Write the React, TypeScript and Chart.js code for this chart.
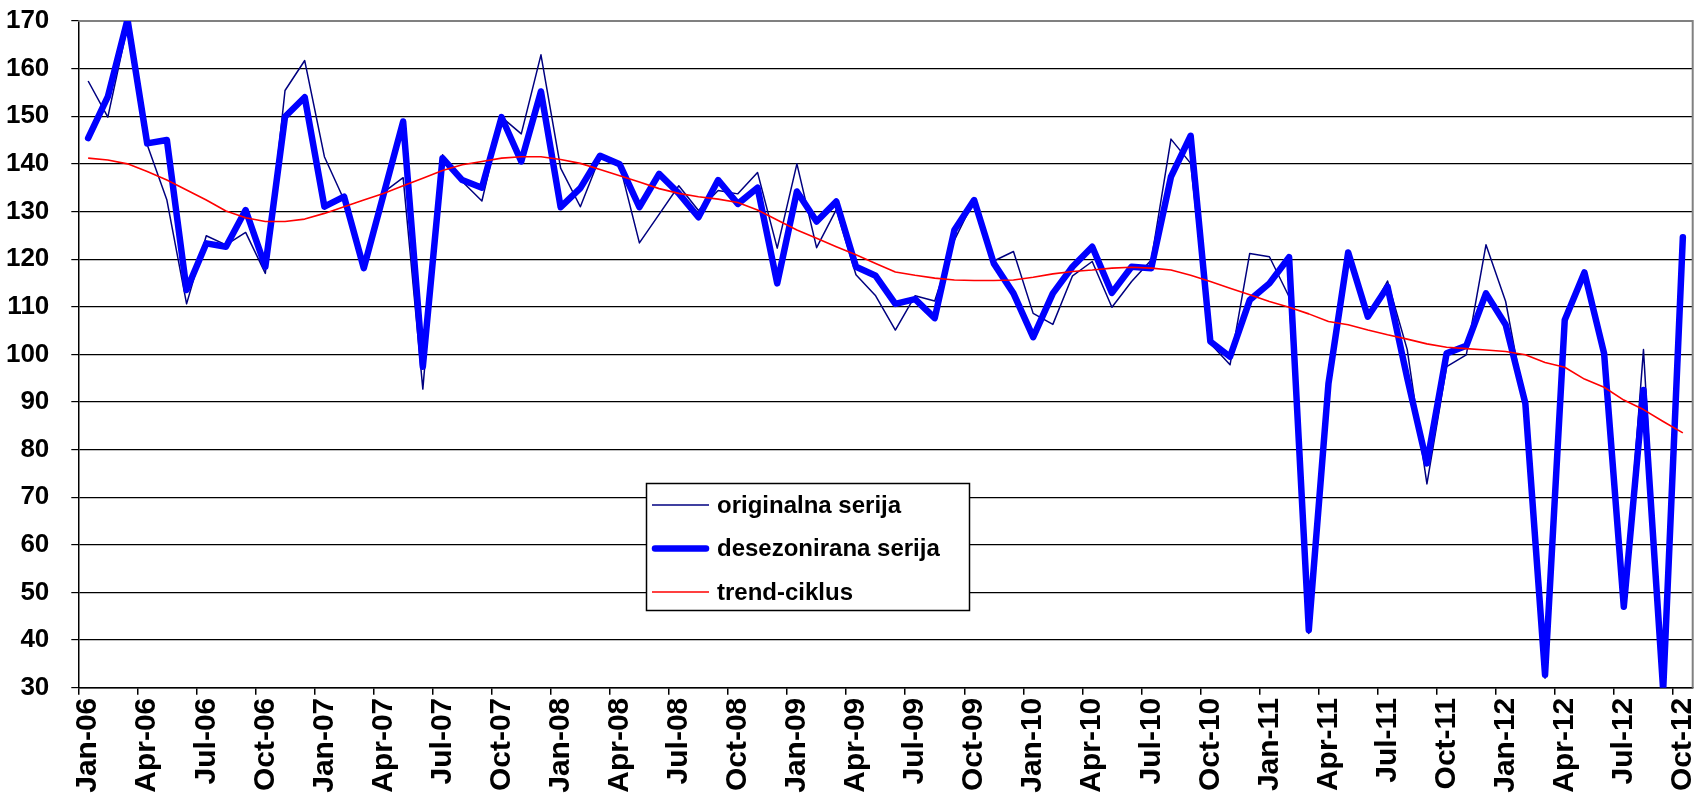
import React, { useEffect, useRef } from 'react';
import { Chart, registerables } from 'chart.js';

Chart.register(...registerables);

const categories = [
  'Jan-06','Feb-06','Mar-06','Apr-06','May-06','Jun-06','Jul-06','Aug-06','Sep-06','Oct-06','Nov-06','Dec-06',
  'Jan-07','Feb-07','Mar-07','Apr-07','May-07','Jun-07','Jul-07','Aug-07','Sep-07','Oct-07','Nov-07','Dec-07',
  'Jan-08','Feb-08','Mar-08','Apr-08','May-08','Jun-08','Jul-08','Aug-08','Sep-08','Oct-08','Nov-08','Dec-08',
  'Jan-09','Feb-09','Mar-09','Apr-09','May-09','Jun-09','Jul-09','Aug-09','Sep-09','Oct-09','Nov-09','Dec-09',
  'Jan-10','Feb-10','Mar-10','Apr-10','May-10','Jun-10','Jul-10','Aug-10','Sep-10','Oct-10','Nov-10','Dec-10',
  'Jan-11','Feb-11','Mar-11','Apr-11','May-11','Jun-11','Jul-11','Aug-11','Sep-11','Oct-11','Nov-11','Dec-11',
  'Jan-12','Feb-12','Mar-12','Apr-12','May-12','Jun-12','Jul-12','Aug-12','Sep-12','Oct-12',
];

const originalnaSerija = [
  157.4, 149.8, 169.0, 144.0, 132.4, 110.6, 124.9, 123.0, 125.6, 117.0, 155.4, 161.7,
  141.5, 132.4, 118.0, 134.0, 137.1, 92.7, 141.9, 136.3, 132.2, 149.8, 146.3, 162.9,
  139.1, 131.0, 141.5, 139.8, 123.4, 129.4, 135.4, 130.2, 134.4, 133.7, 138.2, 122.3,
  140.0, 122.4, 130.4, 116.7, 112.3, 105.1, 112.3, 111.2, 124.0, 132.4, 119.6, 121.6,
  108.6, 106.3, 116.5, 119.5, 109.9, 115.3, 119.8, 145.2, 140.1, 102.3, 97.8, 121.2,
  120.5, 112.1, 41.4, 93.0, 121.6, 107.9, 115.4, 101.0, 72.8, 97.4, 99.9, 123.0,
  111.1, 89.0, 32.0, 107.0, 117.0, 100.0, 47.0, 101.0, 29.5, 124.6,
];

const desezoniranaSerija = [
  145.4, 154.1, 170.3, 144.3, 145.0, 113.5, 123.3, 122.6, 130.3, 118.4, 149.9, 154.0,
  131.0, 133.1, 118.1, 133.5, 148.9, 97.4, 141.2, 136.6, 135.0, 149.8, 140.5, 155.2,
  130.9, 134.9, 141.7, 139.9, 130.9, 137.9, 133.8, 128.8, 136.6, 131.6, 135.0, 114.9,
  134.2, 127.9, 132.1, 118.4, 116.5, 110.6, 111.6, 107.6, 126.1, 132.4, 119.1, 112.8,
  103.6, 112.8, 118.4, 122.6, 112.9, 118.4, 118.1, 137.3, 145.9, 102.7, 99.5, 111.4,
  114.9, 120.4, 42.1, 93.9, 121.4, 107.9, 114.2, 95.0, 77.1, 100.2, 101.8, 112.8,
  106.2, 89.7, 32.7, 107.2, 117.2, 100.2, 47.0, 92.5, 29.5, 124.6,
];

const trendCiklus = [
  141.2, 140.8, 140.0, 138.4, 136.6, 134.5, 132.4, 130.1, 128.7, 127.9, 127.9, 128.4,
  129.6, 131.0, 132.4, 133.8, 135.4, 137.0, 138.6, 139.8, 140.5, 141.2, 141.5, 141.5,
  140.9, 140.1, 138.8, 137.5, 136.2, 134.8, 133.8, 133.1, 132.6, 131.9, 130.3, 128.2,
  126.1, 124.4, 122.6, 120.9, 119.1, 117.3, 116.6, 116.0, 115.6, 115.5, 115.5, 115.6,
  116.2, 116.9, 117.4, 117.7, 118.1, 118.3, 118.1, 117.7, 116.6, 115.3, 113.9, 112.5,
  111.1, 109.9, 108.5, 106.9, 106.2, 105.1, 104.1, 103.2, 102.2, 101.5, 101.2, 100.9,
  100.6, 99.9, 98.3, 97.3, 94.8, 93.1, 90.4, 88.4, 85.9, 83.5,
];

const seriesNames = ['originalna serija', 'desezonirana serija', 'trend-ciklus'];
const yMin = 30;
const yMax = 170;
const yStep = 10;
const labelEvery = 3;

const FONT = "'Liberation Sans', Arial, sans-serif";

const legendBoxPlugin = {
  id: 'legendBox',
  afterDatasetsDraw(chart: any) {
    const ctx = chart.ctx;
    const box = { left: 646.5, top: 483.5, width: 323, height: 127 };
    const sampleX1 = 652;
    const sampleX2 = 709;
    const textX = 717;
    const rowY = [505, 548.5, 592];
    ctx.save();
    ctx.fillStyle = '#ffffff';
    ctx.fillRect(box.left, box.top, box.width, box.height);
    ctx.strokeStyle = '#000000';
    ctx.lineWidth = 1.5;
    ctx.strokeRect(box.left, box.top, box.width, box.height);
    chart.data.datasets.forEach((ds: any, i: number) => {
      const y = rowY[i];
      ctx.strokeStyle = ds.borderColor;
      ctx.lineWidth = ds.borderWidth;
      ctx.lineCap = ds.borderWidth > 3 ? 'round' : 'butt';
      ctx.beginPath();
      ctx.moveTo(sampleX1 + (ds.borderWidth > 3 ? 3 : 0), y);
      ctx.lineTo(sampleX2 - (ds.borderWidth > 3 ? 3 : 0), y);
      ctx.stroke();
      ctx.fillStyle = '#000000';
      ctx.font = `bold 24px ${FONT}`;
      ctx.textBaseline = 'middle';
      ctx.textAlign = 'left';
      ctx.fillText(ds.label, textX, y + 1);
    });
    ctx.restore();
  },
};

const plotBorderPlugin = {
  id: 'plotBorder',
  beforeDatasetsDraw(chart: any) {
    const { ctx, chartArea } = chart;
    ctx.save();
    ctx.strokeStyle = '#808080';
    ctx.lineWidth = 2;
    ctx.beginPath();
    ctx.moveTo(chartArea.left, chartArea.top);
    ctx.lineTo(chartArea.right, chartArea.top);
    ctx.lineTo(chartArea.right, chartArea.bottom);
    ctx.stroke();
    ctx.restore();
  },
};

export default function App() {
  const canvasRef = useRef<HTMLCanvasElement | null>(null);

  useEffect(() => {
    if (!canvasRef.current) return;
    const chart = new Chart(canvasRef.current, {
      type: 'line',
      data: {
        labels: categories,
        datasets: [
          {
            label: seriesNames[0],
            data: originalnaSerija,
            borderColor: '#000080',
            borderWidth: 1.5,
            pointRadius: 0,
            tension: 0,
            order: 3,
            borderJoinStyle: 'round',
          },
          {
            label: seriesNames[1],
            data: desezoniranaSerija,
            borderColor: '#0000FF',
            borderWidth: 6.5,
            pointRadius: 0,
            tension: 0,
            order: 2,
            borderJoinStyle: 'round',
            borderCapStyle: 'round',
          },
          {
            label: seriesNames[2],
            data: trendCiklus,
            borderColor: '#FF0000',
            borderWidth: 1.6,
            pointRadius: 0,
            tension: 0,
            order: 1,
            borderJoinStyle: 'round',
          },
        ],
      },
      options: {
        animation: false,
        responsive: false,
        layout: { padding: { left: 0, right: 5.3, top: 21, bottom: 0 } },
        plugins: {
          legend: { display: false },
          tooltip: { enabled: false },
        },
        scales: {
          x: {
            type: 'category',
            offset: true,
            grid: {
              display: true,
              offset: true,
              drawOnChartArea: false,
              drawTicks: true,
              tickLength: 7,
              lineWidth: 1.5,
              color: (c: any) => (c.index % labelEvery === 0 ? '#000000' : 'rgba(0,0,0,0)'),
            },
            border: { display: true, color: '#000000', width: 1.5 },
            ticks: {
              autoSkip: false,
              minRotation: 90,
              maxRotation: 90,
              padding: 3,
              color: '#000000',
              font: { family: FONT, size: 30, weight: 'bold' },
              callback: (_v: any, i: number) => (i % labelEvery === 0 ? categories[i] : ''),
            },
            afterFit: (s: any) => {
              s.height = 110.3;
              s.paddingLeft = 0;
              s.paddingRight = 0;
            },
          },
          y: {
            min: yMin,
            max: yMax,
            grid: {
              color: '#000000',
              lineWidth: 1.2,
              drawTicks: true,
              tickLength: 7,
            },
            border: { display: true, color: '#000000', width: 1.5 },
            ticks: {
              stepSize: yStep,
              padding: 22,
              color: '#000000',
              font: { family: FONT, size: 26, weight: 'bold' },
            },
            afterFit: (s: any) => {
              s.width = 78.3;
              s.paddingTop = 0;
              s.paddingBottom = 0;
            },
          },
        },
      },
      plugins: [plotBorderPlugin, legendBoxPlugin],
    });
    return () => chart.destroy();
  }, []);

  return (
    <div style={{ position: 'fixed', left: 0, top: 0, width: 1698, height: 798, background: '#fff' }}>
      <canvas ref={canvasRef} width={1698} height={798} style={{ display: 'block' }} />
    </div>
  );
}
